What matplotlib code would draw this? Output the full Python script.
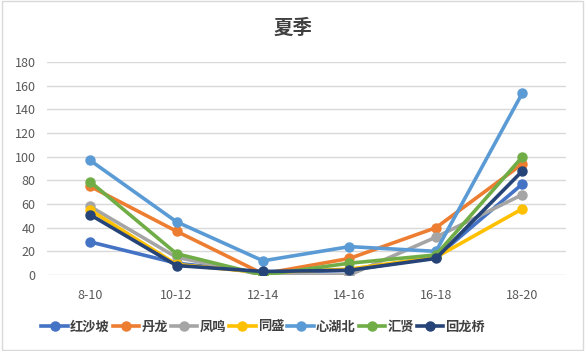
import matplotlib
matplotlib.use('Agg')
import matplotlib.pyplot as plt
from matplotlib.patches import Rectangle

plt.rcParams['font.family'] = ['Noto Sans CJK SC', 'DejaVu Sans']

# time slots and per-site values
slots = ['8-10', '10-12', '12-14', '14-16', '16-18', '18-20']
hongshapo = [28, 10, 2, 4, 15, 77]
danlong = [75, 37, 1, 14, 40, 94]
fengming = [58, 15, 0, 0, 32, 68]
tongsheng = [55, 9, 2, 5, 15, 56]
xinhubei = [97, 45, 12, 24, 20, 154]
huixian = [79, 18, 0, 10, 17, 100]
huilongqiao = [51, 8, 3, 4, 14, 88]

series = [
    ('红沙坡', hongshapo, '#4472C4'),
    ('丹龙', danlong, '#ED7D31'),
    ('凤鸣', fengming, '#A5A5A5'),
    ('同盛', tongsheng, '#FFC000'),
    ('心湖北', xinhubei, '#5B9BD5'),
    ('汇贤', huixian, '#70AD47'),
    ('回龙桥', huilongqiao, '#264478'),
]

fig = plt.figure(figsize=(5.85, 3.51), dpi=100)
fig.patches.append(Rectangle((0.003, 0.003), 0.994, 0.994, transform=fig.transFigure,
                             fill=False, edgecolor='#D9D9D9', linewidth=1))
ax = fig.add_axes([0.080, 0.2165, 0.887, 0.6065])

x = list(range(len(slots)))
for name, vals, color in series:
    ax.plot(x, vals, color=color, linewidth=2.6, marker='o', markersize=6.5, label=name)

ax.set_xlim(-0.5, len(slots) - 0.5)
ax.set_ylim(0, 180)
ax.set_yticks(range(0, 181, 20))
ax.set_xticks(x)
ax.set_xticklabels(slots)
ax.yaxis.grid(True, color='#D9D9D9', linewidth=1)
ax.set_axisbelow(True)
for s in ax.spines.values():
    s.set_visible(False)
ax.tick_params(length=0, labelsize=9, colors='#595959')
ax.tick_params(axis='x', pad=10)
ax.tick_params(axis='y', pad=8)

fig.text(0.5, 0.92, '夏季', ha='center', va='center', fontsize=14, color='#404040',
         fontweight='bold')

fig.legend(loc='center', bbox_to_anchor=(0.45, 0.07), ncol=7, frameon=False,
           prop={'size': 9.5, 'weight': 'bold'}, handlelength=2.0, handletextpad=0.15,
           columnspacing=0.25, labelcolor='#404040')

fig.savefig('out.png', dpi=100)
